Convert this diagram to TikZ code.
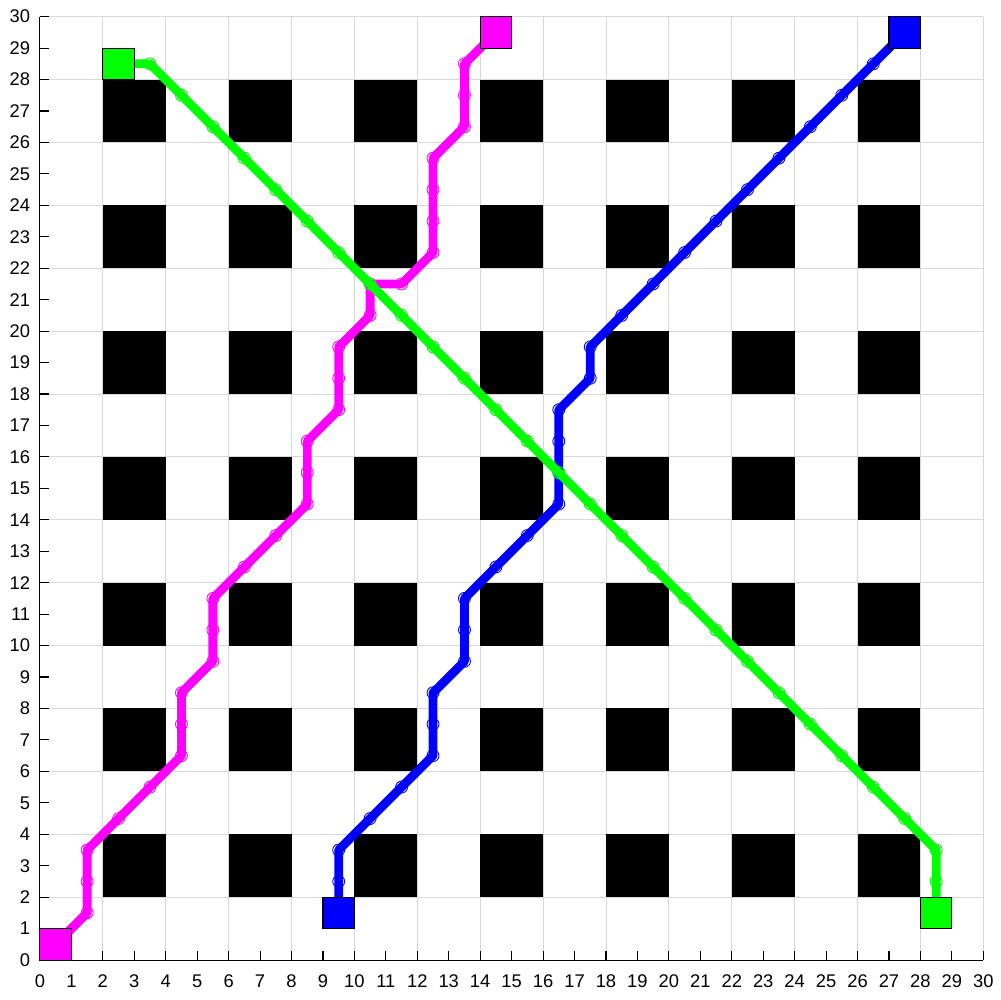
\documentclass[tikz,border=0pt]{standalone}
\usepackage{fontspec}
\setmainfont{Liberation Sans}
\usetikzlibrary{calc}
\definecolor{pathmag}{RGB}{255,0,255}
\definecolor{pathblue}{RGB}{0,0,255}
\definecolor{pathgreen}{RGB}{0,255,0}
\definecolor{gridgray}{RGB}{215,215,215}

\tikzset{
  route/.style={line width=4pt, line join=round, line cap=round},
  waypt/.style={line width=0.4pt},
  goal/.style={draw=black, line width=0.5pt},
  obstacle/.style={fill=black},
  ticklbl/.style={font=\fontsize{8.3}{10}\selectfont, inner sep=0pt},
}

\newcommand\magpts{0.5/0.5, 1.5/1.5, 1.5/2.5, 1.5/3.5, 2.5/4.5, 3.5/5.5, 4.5/6.5, 4.5/7.5, 4.5/8.5,
  5.5/9.5, 5.5/10.5, 5.5/11.5, 6.5/12.5, 7.5/13.5, 8.5/14.5, 8.5/15.5, 8.5/16.5,
  9.5/17.5, 9.5/18.5, 9.5/19.5, 10.5/20.5, 10.5/21.5, 11.5/21.5, 12.5/22.5, 12.5/23.5,
  12.5/24.5, 12.5/25.5, 13.5/26.5, 13.5/27.5, 13.5/28.5, 14.5/29.5}
\newcommand\bluepts{9.5/1.5, 9.5/2.5, 9.5/3.5, 10.5/4.5, 11.5/5.5, 12.5/6.5, 12.5/7.5, 12.5/8.5,
  13.5/9.5, 13.5/10.5, 13.5/11.5, 14.5/12.5, 15.5/13.5, 16.5/14.5, 16.5/15.5, 16.5/16.5,
  16.5/17.5, 17.5/18.5, 17.5/19.5, 18.5/20.5, 19.5/21.5, 20.5/22.5, 21.5/23.5, 22.5/24.5,
  23.5/25.5, 24.5/26.5, 25.5/27.5, 26.5/28.5, 27.5/29.5}
\newcommand\greenpts{2.5/28.5, 3.5/28.5, 4.5/27.5, 5.5/26.5, 6.5/25.5, 7.5/24.5, 8.5/23.5,
  9.5/22.5, 10.5/21.5, 11.5/20.5, 12.5/19.5, 13.5/18.5, 14.5/17.5, 15.5/16.5, 16.5/15.5,
  17.5/14.5, 18.5/13.5, 19.5/12.5, 20.5/11.5, 21.5/10.5, 22.5/9.5, 23.5/8.5, 24.5/7.5,
  25.5/6.5, 26.5/5.5, 27.5/4.5, 28.5/3.5, 28.5/2.5, 28.5/1.5}

\begin{document}
\begin{tikzpicture}[x=0.5cm,y=0.5cm]
\useasboundingbox (-1.27,-1.27) rectangle (30.53,30.53);
% grid and obstacles
\draw[gridgray, line width=0.4pt] (0,0) grid (30,30);
\foreach \i in {2,6,...,26}
  \foreach \j in {2,6,...,26}
    \fill[obstacle] (\i,\j) rectangle ++(2,2);
% axes
\draw[line width=0.5pt] (0,30) -- (0,0) -- (30,0);
\foreach \k in {0,...,30} {
  \draw[line width=0.5pt] (\k,0) -- ++(0,0.3);
  \draw[line width=0.5pt] (0,\k) -- ++(0.3,0);
  \node[ticklbl, anchor=north] (xl\k) at (\k,-0.45) {\k};
  \node[ticklbl, anchor=east] (yl\k) at (-0.3,\k) {\k};
}
% routes
\draw[route, pathmag] (0.5,0.5) \foreach \x/\y in \magpts {-- (\x,\y)};
\foreach \x/\y in \magpts \draw[waypt, pathmag] (\x,\y) circle (0.19);
\draw[route, pathblue] (9.5,1.5) \foreach \x/\y in \bluepts {-- (\x,\y)};
\foreach \x/\y in \bluepts \draw[waypt, pathblue] (\x,\y) circle (0.19);
\draw[route, pathgreen] (2.5,28.5) \foreach \x/\y in \greenpts {-- (\x,\y)};
\foreach \x/\y in \greenpts \draw[waypt, pathgreen] (\x,\y) circle (0.19);
% start and goal cells
\filldraw[goal, fill=pathmag] (0,0) rectangle (1,1);
\filldraw[goal, fill=pathmag] (14,29) rectangle (15,30);
\filldraw[goal, fill=pathblue] (9,1) rectangle (10,2);
\filldraw[goal, fill=pathblue] (27,29) rectangle (28,30);
\filldraw[goal, fill=pathgreen] (2,28) rectangle (3,29);
\filldraw[goal, fill=pathgreen] (28,1) rectangle (29,2);
\end{tikzpicture}
\end{document}
